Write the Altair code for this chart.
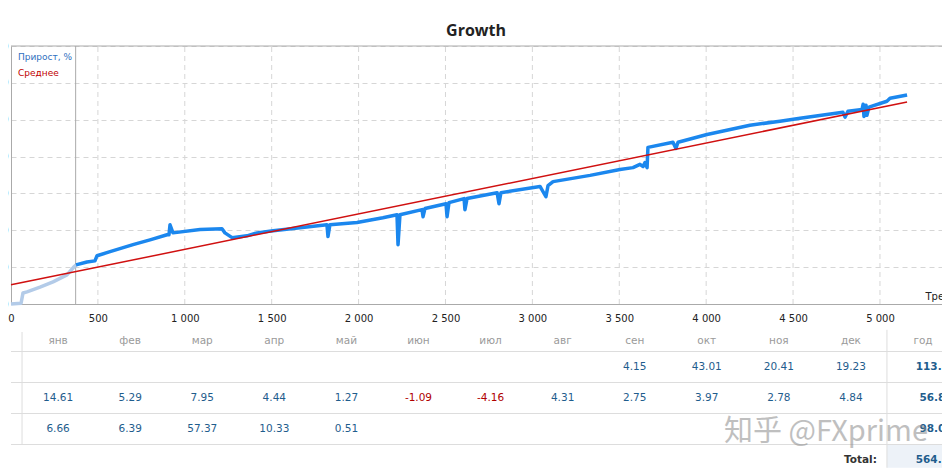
import altair as alt
import pandas as pd

# ---------------- data ----------------
hist_trades = [0, 58, 69, 92, 167, 242, 322, 363, 374]
hist_growth = [0, 2, 30, 33, 46, 60, 79, 101, 106]

live_trades = [374, 437, 483, 495, 570, 702, 800, 898, 909, 915,
               932, 1088, 1214, 1231, 1272, 1358, 1416, 1508, 1818, 1824,
               1835, 1991, 2140, 2221, 2227, 2238, 2365, 2371, 2382, 2503,
               2509, 2520, 2607, 2612, 2624, 2797, 2808, 2819, 3044, 3078,
               3090, 3119, 3332, 3504, 3579, 3619, 3637, 3648, 3660, 3665,
               3809, 3826, 3838, 4005, 4252, 4425, 4540, 4787, 4799, 4816,
               4897, 4903, 4908, 4920, 4925, 4937, 5040, 5058, 5156]
live_growth = [106, 114, 117, 131, 142, 161, 174, 188, 188, 215,
               193, 202, 204, 193, 180, 185, 193, 199, 215, 183,
               215, 221, 234, 242, 161, 242, 256, 237, 259, 272,
               237, 275, 286, 256, 286, 302, 272, 302, 319, 291,
               321, 332, 349, 365, 370, 379, 373, 384, 370, 425,
               439, 422, 439, 460, 485, 496, 504, 520, 507, 523,
               528, 542, 509, 539, 512, 534, 550, 558, 567]

avg_trades = [0, 5156]
avg_growth = [52, 548]

monitor_start = 372

x_ticks = [0, 500, 1000, 1500, 2000, 2500, 3000, 3500, 4000, 4500, 5000]
y_ticks = [0, 100, 200, 300, 400, 500, 600, 700]

chart_title = "Growth"
legend_labels = ["Прирост, %", "Среднее"]

months = ["янв", "фев", "мар", "апр", "май", "июн", "июл", "авг", "сен", "окт", "ноя", "дек"]
year_col = "год"
years = ["2018", "2019", "2020"]
vals_2018 = [None] * 8 + [4.15, 43.01, 20.41, 19.23]
vals_2019 = [14.61, 5.29, 7.95, 4.44, 1.27, -1.09, -4.16, 4.31, 2.75, 3.97, 2.78, 4.84]
vals_2020 = [6.66, 6.39, 57.37, 10.33, 0.51] + [None] * 7
year_totals = [113.84, 56.84, 98.03]
grand_total = 564.17
total_label = "Total:"
watermark = "知乎 @FXprime"

# ---------------- styles ----------------
BLUE = "#1b87ee"
HIST = "#b3cbe8"
RED = "#d01010"
FRAME = "#aaaaaa"
GRID = "#d6d6d6"
VAL = "#1f5d8d"
NEG = "#b00000"
FONT = "DejaVu Sans"

W, H = 931, 422
PLOT_H = 258

X = alt.Scale(domain=[0, 5357], nice=False, zero=False)
Y = alt.Scale(domain=[0, 700], range=[PLOT_H, 0], nice=False)

XAXIS = alt.Axis(values=x_ticks, grid=False, ticks=False, offset=-(H - PLOT_H),
                 domainColor=FRAME, labelPadding=9, labelFontSize=10, labelFlush=False,
                 labelExpr="replace(format(datum.value, ','), ',', ' ')",
                 title="Трейды", titleX=914, titleY=-5, titleAlign="left",
                 titleBaseline="alphabetic", titleFontWeight="normal",
                 titleFontSize=10, titleFont=FONT, titleColor="#222")
YAXIS = alt.Axis(values=y_ticks, grid=True, gridDash=[5, 4], gridColor=GRID,
                 ticks=False, domainColor=FRAME, labelPadding=3, title=None,
                 labelFontSize=10)


def xq(field=None, datum=None):
    if datum is not None:
        return alt.X(datum=datum, type="quantitative", scale=X, axis=XAXIS, title="Трейды")
    return alt.X(field, type="quantitative", scale=X, axis=XAXIS, title="Трейды")


def yq(field=None, datum=None):
    if datum is not None:
        return alt.Y(datum=datum, type="quantitative", scale=Y, axis=YAXIS, title=None)
    return alt.Y(field, type="quantitative", scale=Y, axis=YAXIS, title=None)


one = pd.DataFrame({"a": [0]})

xgrid = alt.Chart(pd.DataFrame({"t": x_ticks[1:]})).mark_rule(
    color=GRID, strokeDash=[5, 4], strokeWidth=1
).encode(x=xq("t"), y=yq(datum=0), y2=alt.Y2(datum=700))

frame_top = alt.Chart(one).mark_rule(color=FRAME, strokeWidth=1).encode(y=yq(datum=700))

monitor = alt.Chart(one).mark_rule(color=FRAME, strokeWidth=1).encode(
    x=xq(datum=monitor_start), y=yq(datum=0), y2=alt.Y2(datum=700))

hist = alt.Chart(pd.DataFrame({"t": hist_trades, "g": hist_growth})).mark_line(
    color=HIST, strokeWidth=3.5, strokeJoin="round"
).encode(x=xq("t"), y=yq("g"))

live = alt.Chart(pd.DataFrame({"t": live_trades, "g": live_growth})).mark_line(
    color=BLUE, strokeWidth=3.5, strokeJoin="round"
).encode(x=xq("t"), y=yq("g"))

avg = alt.Chart(pd.DataFrame({"t": avg_trades, "g": avg_growth})).mark_line(
    color=RED, strokeWidth=1.5
).encode(x=xq("t"), y=yq("g"))

leg1 = alt.Chart(one).mark_text(align="left", baseline="middle", font=FONT,
                                fontSize=9, color="#2f6fc0").encode(
    x=alt.value(7), y=alt.value(11), text=alt.value(legend_labels[0]))
leg2 = alt.Chart(one).mark_text(align="left", baseline="middle", font=FONT,
                                fontSize=9, color="#c00000").encode(
    x=alt.value(7), y=alt.value(27), text=alt.value(legend_labels[1]))

title_txt = alt.Chart(one).mark_text(align="center", baseline="alphabetic",
                                     font="Open Sans", fontSize=16, fontWeight="bold",
                                     color="#222222").encode(
    x=alt.value(465), y=alt.value(-10), text=alt.value(chart_title))

line_part = alt.layer(xgrid, frame_top, monitor, hist, live, avg, leg1, leg2, title_txt)

# ---------------- table ----------------
TX = alt.Scale(domain=[0, 13], range=[-25, 912], nice=False, zero=False)
TY = alt.Scale(domain=[0, 4], range=[290, 414], nice=False, zero=False)


def tx(field):
    return alt.X(field, type="quantitative", scale=TX, axis=None)


def ty(field):
    return alt.Y(field, type="quantitative", scale=TY, axis=None)


cells = []
for r, vals in enumerate([vals_2018, vals_2019, vals_2020], start=1):
    for c, v in enumerate(vals, start=1):
        if v is not None:
            cells.append({"col": c, "row": r, "v": v, "txt": f"{v:.2f}"})
cells = pd.DataFrame(cells)

header = pd.DataFrame({"col": list(range(1, 14)), "row": [0] * 13,
                       "txt": months + [year_col]})
year_df = pd.DataFrame({"col": [0] * 3, "row": [1, 2, 3], "txt": years})
ytot_df = pd.DataFrame({"col": [13] * 3, "row": [1, 2, 3],
                        "txt": [f"{v:.2f}" for v in year_totals]})
gt_df = pd.DataFrame({"col": [13], "row": [4], "txt": [f"{grand_total:.2f}"]})
tl_df = pd.DataFrame({"col": [12], "row": [4], "txt": [total_label]})

bg = alt.Chart(pd.DataFrame({"c1": [12.5], "c2": [13.5], "r1": [3.5], "r2": [4.25]})).mark_rect(
    color="#edf2f8").encode(x=tx("c1"), x2="c2", y=ty("r1"), y2="r2")

hlines = alt.Chart(pd.DataFrame({"r": [0.5, 1.5, 2.5, 3.5]})).mark_rule(
    color="#dddddd", strokeWidth=1).encode(y=ty("r"))

vlines = alt.Chart(pd.DataFrame({"c": [0.5, 12.5], "r1": [-0.13, -0.2], "r2": [3.5, 4.25]})).mark_rule(
    color="#dddddd", strokeWidth=1).encode(x=tx("c"), y=ty("r1"), y2="r2")

head_txt = alt.Chart(header).mark_text(font=FONT, fontSize=10.5, color="#9a9a9a",
                                       baseline="middle", dy=5).encode(
    x=tx("col"), y=ty("row"), text="txt:N")

year_txt = alt.Chart(year_df).mark_text(font=FONT, fontSize=10.5, color="#333333",
                                        align="right", baseline="middle", dx=22).encode(
    x=tx("col"), y=ty("row"), text="txt:N")

val_txt = alt.Chart(cells).mark_text(font=FONT, fontSize=10.5, baseline="middle").encode(
    x=tx("col"), y=ty("row"), text="txt:N",
    color=alt.condition(alt.datum.v < 0, alt.value(NEG), alt.value(VAL)))

ytot_txt = alt.Chart(ytot_df).mark_text(font=FONT, fontSize=10.5, fontWeight="bold",
                                        color=VAL, baseline="middle", dx=13).encode(
    x=tx("col"), y=ty("row"), text="txt:N")

gt_txt = alt.Chart(gt_df).mark_text(font=FONT, fontSize=10.5, fontWeight="bold",
                                    color=VAL, baseline="middle", dx=13).encode(
    x=tx("col"), y=ty("row"), text="txt:N")

tl_txt = alt.Chart(tl_df).mark_text(font=FONT, fontSize=10.5, fontWeight="bold",
                                    color="#333333", align="right", baseline="middle", dx=26).encode(
    x=tx("col"), y=ty("row"), text="txt:N")

wm = alt.Chart(one).mark_text(font="Noto Sans CJK SC", fontSize=29, color="#8c8c8c",
                              opacity=0.55, baseline="middle").encode(
    x=alt.value(815), y=alt.value(386), text=alt.value(watermark))

table_part = alt.layer(bg, hlines, vlines, head_txt, year_txt, val_txt,
                       ytot_txt, gt_txt, tl_txt, wm)

chart = alt.layer(line_part, table_part).resolve_scale(
    x="independent", y="independent"
).properties(
    width=W, height=H,
    autosize=alt.AutoSizeParams(type="none"),
    padding={"left": 3, "top": 38, "right": 0, "bottom": 0},
).configure_view(stroke=None).configure_axis(
    labelFont=FONT, labelColor="#222222"
)

chart.save("out.html", embed_options={"renderer": "svg", "actions": False})
